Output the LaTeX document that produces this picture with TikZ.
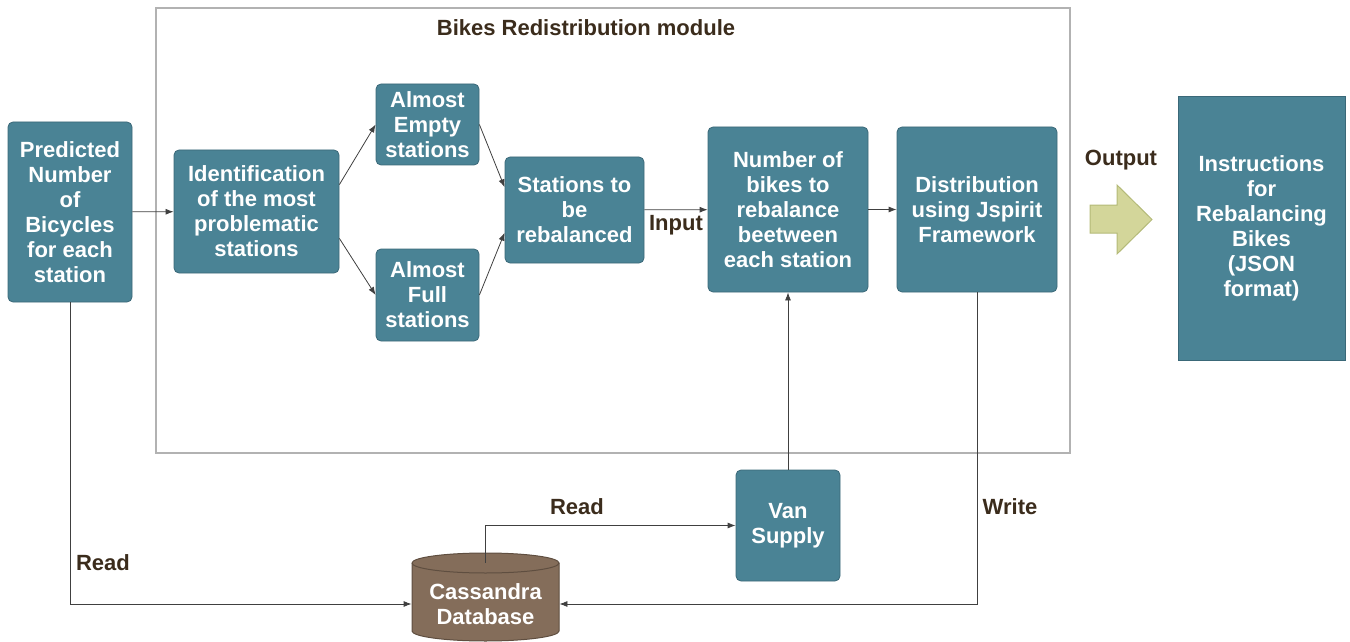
\documentclass[tikz,border=0pt]{standalone}
\usepackage{fontspec}
\setmainfont{Liberation Sans}
\usepackage{tikz}
\usetikzlibrary{arrows.meta}

\definecolor{boxfill}{RGB}{74,131,149}
\definecolor{boxline}{RGB}{58,104,120}
\definecolor{dbfill}{RGB}{132,109,90}
\definecolor{dbline}{RGB}{95,78,64}
\definecolor{outfill}{RGB}{211,214,154}
\definecolor{outline}{RGB}{180,186,120}
\definecolor{labelcol}{RGB}{59,44,28}

\tikzset{
	box/.style={draw=boxline, fill=boxfill, rounded corners=2.5pt, text=white, align=center,
		font=\bfseries\fontsize{11}{12.5}\selectfont, inner sep=0pt},
	link/.style={draw=black!75, line width=0.4pt, -{Latex[length=4pt,width=3pt]}},
	lbl/.style={text=labelcol, font=\bfseries\fontsize{11}{12.5}\selectfont}
}

\begin{document}
\begin{tikzpicture}[x=0.5pt,y=-0.5pt]
	\useasboundingbox (0,0) rectangle (1350,642);

	% module frame
	\draw[black!30, line width=0.7pt] (156,8) rectangle (1070,453);
	\node[lbl] (title) at (586,28) {Bikes Redistribution module};

	\node[box, minimum width=62pt, minimum height=90pt] (pred) at (70,212) {Predicted\\Number\\of\\Bicycles\\for each\\station};
	\node[box, minimum width=82.5pt, minimum height=61.5pt] (ident) at (256.5,211.5) {Identification\\of the most\\problematic\\stations};
	\node[box, minimum width=51.5pt, minimum height=40.5pt] (empty) at (427.5,124.5) {Almost\\Empty\\stations};
	\node[box, minimum width=51.5pt, minimum height=46pt] (full) at (427.5,295) {Almost\\Full\\stations};
	\node[box, minimum width=69.5pt, minimum height=53pt] (tobe) at (574.5,210) {Stations to\\be\\rebalanced};
	\node[box, minimum width=80pt, minimum height=82.5pt] (nbikes) at (788,209.5) {Number of\\bikes to\\rebalance\\beetween\\each station};
	\node[box, minimum width=80pt, minimum height=82.5pt] (distr) at (977,209.5) {Distribution\\using Jspirit\\Framework};
	\node[box, rounded corners=0pt, minimum width=83.5pt, minimum height=132pt] (instr) at (1261.5,228) {Instructions\\for\\Rebalancing\\Bikes\\(JSON\\format)};
	\node[box, minimum width=52pt, minimum height=55.5pt] (van) at (788,525.5) {Van\\Supply};

	% database cylinder
	\draw[draw=dbline, fill=dbfill, line width=0.5pt] (412,563) -- (412,631)
		arc[start angle=180, end angle=360, x radius=36.75pt, y radius=5pt] -- (559,563)
		arc[start angle=0, end angle=180, x radius=36.75pt, y radius=5pt] -- cycle;
	\draw[dbline, line width=0.5pt] (412,563) arc[start angle=180, end angle=360, x radius=36.75pt, y radius=5pt];
	\node[box, draw=none, fill=none, minimum width=73.5pt, minimum height=41pt] (db) at (485.5,604) {Cassandra\\Database};

	% output arrow
	\draw[draw=outline, fill=outfill, line width=0.5pt] (1090,205) -- (1117,205) -- (1117,185) -- (1152,219.5)
		-- (1117,254) -- (1117,233) -- (1090,233) -- cycle;
	\node[lbl] (out) at (1121,160) {Output};

	\draw[link] (pred) -- (ident);
	\draw[link] (ident.18) -- (empty.west);
	\draw[link] (ident.-18) -- (full.west);
	\draw[link] (empty.east) -- (tobe.162);
	\draw[link] (full.east) -- (tobe.198);
	\draw[link] (tobe) -- (nbikes);
	\draw[link] (nbikes) -- (distr);
	\draw[link] (van.north) -- (nbikes.south);
	\draw[link] (db.north) |- (van.west);
	\draw[link] (pred.south) |- (db.west);
	\draw[link] (distr.south) |- (db.east);

	\node[lbl] (input) at (676,225) {Input};
	\node[lbl] (read1) at (103,563) {Read};
	\node[lbl] (read2) at (577,507) {Read};
	\node[lbl] (write) at (1010,507) {Write};
\end{tikzpicture}
\end{document}
